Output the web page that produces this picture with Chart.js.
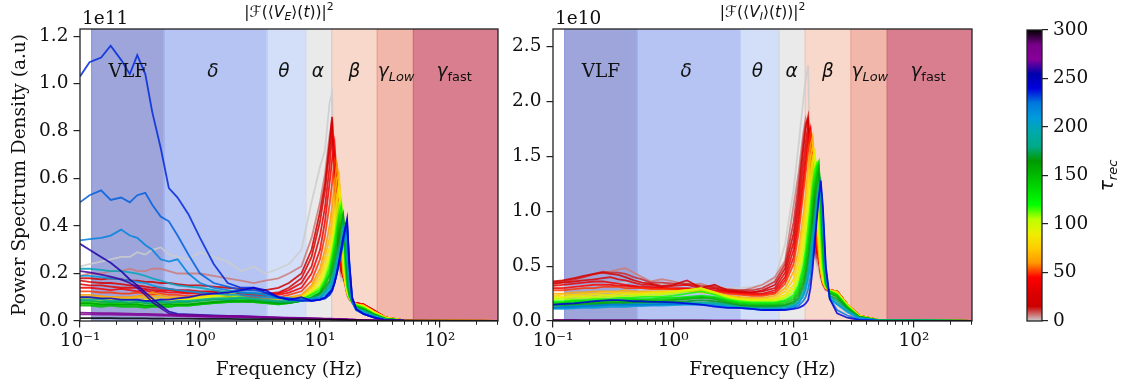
<!DOCTYPE html>
<html>
<head>
<meta charset="utf-8">
<script src="https://cdn.jsdelivr.net/npm/chart.js@4.4.1/dist/chart.umd.min.js"></script>
<style>
  body { margin: 0; background: #fff; }
  #wrap { position: relative; width: 1122px; height: 389px; overflow: hidden; background: #fff; }
  canvas { position: absolute; top: 0; }
</style>
</head>
<body>
<div id="wrap">
  <canvas id="left" width="500" height="389" style="left:0px"></canvas>
  <canvas id="right" width="485" height="389" style="left:500px"></canvas>
  <canvas id="cbar" width="137" height="389" style="left:985px"></canvas>
</div>
<script>
// frequency grid (Hz) shared by every spectrum
const freqs = [0.1, 0.12, 0.15, 0.18, 0.22, 0.26, 0.3, 0.35, 0.4, 0.47,
  0.55, 0.65, 0.8, 1, 1.3, 1.7, 2.2, 2.8, 3.5, 4.5,
  5.5, 7, 8.5, 10, 11, 12, 12.6, 13.2, 13.8, 14.4,
  15, 15.6, 16.2, 16.8, 17.5, 18.5, 20, 23, 28, 35, 50, 300];

// |F(<V_E>(t))|^2, units of 1e11, one array per tau_rec
const E000 = [0.23,0.24,0.25,0.26,0.27,0.27,0.29,0.28,0.30,0.31, 0.28,0.27,0.26,0.29,0.27, 0.25,0.21,0.23,0.20,0.22, 0.24,0.30,0.50,0.65,0.72, 0.92,0.96,0.55,0.32,0.22, 0.17,0.18,0.15,0.11,0.09, 0.08,0.07,0.06,0.04,0.015, 0.003,0];
const E006 = [0.19,0.20,0.20,0.21,0.21,0.22,0.21,0.21,0.22,0.22, 0.21,0.20,0.20,0.20,0.19, 0.18,0.17,0.16,0.17,0.18, 0.20,0.23,0.35,0.50,0.62, 0.78,0.85,0.55,0.35,0.25, 0.19,0.18,0.15,0.11,0.09, 0.08,0.07,0.06,0.04,0.015, 0.003,0];
const E015 = [0.18,0.18,0.175,0.18,0.175,0.17,0.17,0.165,0.165,0.16, 0.16,0.155,0.15,0.15,0.145, 0.14,0.135,0.13,0.13,0.14, 0.16,0.20,0.30,0.46,0.58, 0.75,0.86,0.60,0.40,0.28, 0.21,0.19,0.16,0.12,0.10, 0.08,0.075,0.07,0.045,0.015, 0.003,0];
const E025 = [0.17,0.165,0.16,0.16,0.155,0.15,0.15,0.145,0.14,0.14, 0.135,0.13,0.13,0.125,0.125, 0.12,0.12,0.115,0.115,0.12, 0.14,0.18,0.27,0.42,0.55, 0.72,0.84,0.62,0.42,0.30, 0.22,0.19,0.16,0.12,0.10, 0.08,0.075,0.07,0.045,0.015, 0.003,0];
const E032 = [0.155,0.15,0.15,0.145,0.14,0.14,0.14,0.135,0.13,0.13, 0.13,0.125,0.12,0.12,0.12, 0.115,0.115,0.11,0.11,0.115, 0.13,0.16,0.23,0.36,0.48, 0.65,0.78,0.70,0.50,0.35, 0.24,0.19,0.165,0.12,0.10, 0.08,0.075,0.07,0.045,0.015, 0.003,0];
const E040 = [0.14,0.14,0.135,0.13,0.135,0.13,0.125,0.13,0.12,0.125, 0.12,0.12,0.115,0.12,0.115, 0.11,0.11,0.105,0.105,0.11, 0.12,0.14,0.20,0.30,0.42, 0.58,0.68,0.75,0.60,0.40, 0.25,0.19,0.17,0.12,0.10, 0.08,0.075,0.07,0.045,0.015, 0.003,0];
const E050 = [0.125,0.125,0.12,0.12,0.115,0.115,0.12,0.115,0.11,0.115, 0.11,0.11,0.105,0.11,0.11, 0.105,0.10,0.10,0.095,0.10, 0.11,0.125,0.17,0.26,0.36, 0.49,0.58,0.68,0.66,0.50, 0.30,0.20,0.17,0.12,0.10, 0.08,0.072,0.068,0.042,0.015, 0.003,0];
const E060 = [0.11,0.11,0.105,0.10,0.10,0.10,0.105,0.11,0.12,0.11, 0.10,0.10,0.10,0.11,0.115, 0.10,0.095,0.09,0.09,0.095, 0.10,0.11,0.15,0.22,0.30, 0.40,0.48,0.58,0.66,0.60, 0.35,0.20,0.17,0.12,0.10, 0.08,0.07,0.065,0.04,0.015, 0.003,0];
const E070 = [0.105,0.10,0.10,0.10,0.095,0.095,0.10,0.10,0.105,0.10, 0.095,0.095,0.10,0.105,0.11, 0.11,0.10,0.09,0.09,0.09, 0.095,0.105,0.14,0.20,0.27, 0.35,0.42,0.51,0.60,0.62, 0.42,0.22,0.16,0.12,0.10, 0.08,0.07,0.065,0.04,0.015, 0.003,0];
const E080 = [0.10,0.10,0.095,0.095,0.09,0.095,0.09,0.09,0.095,0.09, 0.09,0.09,0.095,0.10,0.11, 0.13,0.10,0.09,0.085,0.085, 0.09,0.10,0.13,0.18,0.24, 0.31,0.37,0.45,0.53,0.58, 0.45,0.25,0.16,0.12,0.10, 0.08,0.07,0.065,0.04,0.015, 0.003,0];
const E090 = [0.095,0.095,0.09,0.09,0.09,0.09,0.085,0.09,0.09,0.085, 0.085,0.09,0.09,0.095,0.105, 0.12,0.10,0.09,0.085,0.085, 0.09,0.10,0.125,0.165,0.22, 0.28,0.34,0.41,0.49,0.55, 0.50,0.30,0.18,0.12,0.10, 0.08,0.07,0.062,0.038,0.013, 0.003,0];
const E100 = [0.09,0.09,0.085,0.085,0.085,0.08,0.085,0.08,0.08,0.085, 0.08,0.085,0.09,0.09,0.10, 0.11,0.10,0.09,0.085,0.08, 0.085,0.095,0.12,0.15,0.20, 0.26,0.31,0.38,0.45,0.50, 0.52,0.35,0.20,0.13,0.10, 0.08,0.07,0.06,0.035,0.012, 0.003,0];
const E112 = [0.08,0.08,0.08,0.08,0.075,0.075,0.075,0.075,0.075,0.08, 0.075,0.075,0.08,0.085,0.09, 0.10,0.095,0.09,0.08,0.08, 0.08,0.09,0.115,0.14,0.18, 0.24,0.29,0.35,0.42,0.47, 0.50,0.38,0.22,0.14,0.10, 0.08,0.068,0.058,0.032,0.011, 0.002,0];
const E125 = [0.075,0.075,0.07,0.075,0.07,0.07,0.07,0.065,0.07,0.07, 0.065,0.07,0.07,0.075,0.08, 0.085,0.09,0.085,0.08,0.075, 0.08,0.09,0.11,0.13,0.17, 0.22,0.27,0.33,0.39,0.44, 0.48,0.42,0.25,0.15,0.11, 0.08,0.065,0.055,0.03,0.01, 0.002,0];
const E138 = [0.07,0.07,0.065,0.07,0.065,0.065,0.065,0.06,0.065,0.065, 0.06,0.065,0.065,0.07,0.075, 0.08,0.085,0.08,0.075,0.07, 0.075,0.085,0.10,0.12,0.16, 0.20,0.25,0.30,0.36,0.41, 0.45,0.44,0.28,0.16,0.11, 0.08,0.062,0.052,0.029,0.01, 0.002,0];
const E150 = [0.065,0.065,0.06,0.065,0.06,0.06,0.06,0.055,0.06,0.06, 0.06,0.065,0.065,0.07,0.075, 0.08,0.08,0.08,0.075,0.07, 0.075,0.085,0.10,0.12,0.15, 0.19,0.23,0.28,0.33,0.38, 0.42,0.45,0.30,0.18,0.12, 0.08,0.06,0.05,0.028,0.01, 0.002,0];
const E162 = [0.075,0.075,0.07,0.07,0.07,0.07,0.07,0.065,0.065,0.07, 0.07,0.07,0.07,0.075,0.08, 0.085,0.085,0.085,0.08,0.075, 0.075,0.085,0.095,0.115,0.14, 0.17,0.21,0.25,0.30,0.35, 0.40,0.44,0.34,0.20,0.12, 0.08,0.058,0.048,0.027,0.009, 0.002,0];
const E175 = [0.085,0.085,0.08,0.08,0.08,0.075,0.08,0.075,0.075,0.08, 0.075,0.08,0.08,0.085,0.09, 0.09,0.095,0.09,0.085,0.08, 0.08,0.085,0.095,0.11,0.13, 0.16,0.19,0.23,0.28,0.32, 0.37,0.42,0.38,0.22,0.13, 0.08,0.055,0.045,0.025,0.008, 0.002,0];
const E188 = [0.09,0.09,0.09,0.085,0.085,0.085,0.085,0.08,0.08,0.085, 0.08,0.085,0.085,0.09,0.095, 0.095,0.10,0.095,0.09,0.085, 0.085,0.085,0.09,0.10,0.12, 0.15,0.17,0.21,0.26,0.30, 0.34,0.40,0.40,0.26,0.15, 0.08,0.052,0.042,0.022,0.007, 0.001,0];
const E200 = [0.22,0.22,0.215,0.21,0.21,0.205,0.20,0.19,0.18,0.17, 0.16,0.15,0.145,0.14,0.13, 0.12,0.12,0.115,0.11,0.10, 0.095,0.09,0.095,0.10,0.12, 0.14,0.16,0.20,0.24,0.28, 0.32,0.37,0.40,0.30,0.17, 0.08,0.05,0.04,0.02,0.006, 0.001,0];
const E210 = [0.19,0.19,0.185,0.18,0.175,0.17,0.165,0.16,0.15,0.14, 0.135,0.13,0.125,0.12,0.115, 0.11,0.11,0.105,0.10,0.095, 0.09,0.09,0.09,0.10,0.11, 0.13,0.15,0.18,0.22,0.26, 0.30,0.34,0.38,0.36,0.20, 0.08,0.05,0.035,0.018,0.005, 0.001,0];
const E220 = [0.34,0.345,0.35,0.36,0.385,0.36,0.35,0.32,0.30,0.26, 0.25,0.26,0.20,0.16,0.14, 0.13,0.12,0.12,0.11,0.10, 0.095,0.09,0.09,0.095,0.10, 0.12,0.14,0.17,0.21,0.25, 0.29,0.33,0.37,0.38,0.22, 0.08,0.045,0.03,0.015,0.004, 0.001,0];
const E228 = [0.50,0.53,0.55,0.51,0.52,0.50,0.53,0.54,0.49,0.44, 0.42,0.36,0.28,0.20,0.16, 0.145,0.13,0.13,0.12,0.10, 0.095,0.09,0.085,0.09,0.095, 0.11,0.13,0.16,0.20,0.24, 0.28,0.33,0.37,0.40,0.25, 0.09,0.05,0.03,0.015,0.004, 0.001,0];
const E235 = [1.03,1.09,1.11,1.16,1.10,1.04,1.12,1.04,0.88,0.73, 0.56,0.52,0.45,0.35,0.24, 0.16,0.14,0.14,0.12,0.10, 0.09,0.085,0.085,0.09,0.095, 0.11,0.125,0.16,0.20,0.25, 0.30,0.35,0.39,0.42,0.26, 0.10,0.05,0.03,0.015,0.004, 0.001,0];
const E242 = [0.10,0.10,0.095,0.095,0.09,0.09,0.09,0.085,0.085,0.09, 0.09,0.095,0.10,0.11,0.115, 0.12,0.13,0.14,0.13,0.10, 0.09,0.10,0.085,0.09,0.10, 0.12,0.13,0.16,0.20,0.25, 0.30,0.35,0.39,0.43,0.24, 0.10,0.05,0.03,0.015,0.004, 0.001,0];
const E258 = [0.325,0.30,0.27,0.245,0.21,0.175,0.15,0.12,0.095,0.065, 0.04,0.03,0.028,0.026,0.024, 0.022,0.02,0.018,0.016,0.014, 0.012,0.011,0.01,0.009,0.009, 0.008,0.008,0.008,0.007,0.007, 0.007,0.006,0.006,0.006,0.005, 0.005,0.004,0.003,0.002,0.001, 0,0];
const E262 = [0.21,0.205,0.195,0.187,0.175,0.16,0.14,0.11,0.08,0.055, 0.032,0.025,0.022,0.02,0.019, 0.018,0.017,0.016,0.014,0.013, 0.012,0.011,0.01,0.009,0.009, 0.008,0.008,0.008,0.007,0.007, 0.007,0.006,0.006,0.006,0.005, 0.005,0.004,0.003,0.002,0.001, 0,0];
const E270 = [0.028,0.028,0.027,0.027,0.026,0.026,0.025,0.025,0.024,0.023, 0.022,0.021,0.02,0.019,0.018, 0.017,0.016,0.015,0.014,0.013, 0.012,0.011,0.01,0.01,0.009, 0.009,0.009,0.008,0.008,0.008, 0.008,0.007,0.007,0.007,0.006, 0.006,0.005,0.004,0.003,0.002, 0.001,0];
const E280 = [0.035,0.034,0.033,0.033,0.032,0.031,0.03,0.03,0.029,0.028, 0.027,0.026,0.025,0.024,0.022, 0.021,0.02,0.018,0.017,0.015, 0.014,0.013,0.012,0.011,0.01, 0.01,0.01,0.009,0.009,0.009, 0.009,0.008,0.008,0.008,0.007, 0.007,0.006,0.005,0.004,0.002, 0.001,0];
const E300 = [0.012,0.012,0.012,0.012,0.011,0.011,0.011,0.011,0.01,0.01, 0.01,0.01,0.01,0.009,0.009, 0.009,0.008,0.008,0.008,0.007, 0.007,0.007,0.006,0.006,0.006, 0.006,0.005,0.005,0.005,0.005, 0.005,0.005,0.005,0.004,0.004, 0.004,0.004,0.003,0.002,0.001, 0.001,0];

// |F(<V_I>(t))|^2, units of 1e10
const I000 = [0.30,0.31,0.31,0.32,0.33,0.33,0.34,0.34,0.35,0.36, 0.35,0.34,0.33,0.34,0.35, 0.33,0.31,0.30,0.30,0.31, 0.33,0.38,0.70,1.20,1.60, 2.00,2.20,2.33,1.30,0.80, 0.60,0.50,0.45,0.38,0.32, 0.28,0.27,0.25,0.14,0.05, 0.01,0];
const I006 = [0.33,0.35,0.37,0.40,0.42,0.44,0.45,0.47,0.48,0.44, 0.40,0.36,0.38,0.36,0.33, 0.34,0.30,0.28,0.27,0.30, 0.33,0.40,0.55,1.05,1.35, 1.70,1.85,1.80,1.20,0.80, 0.60,0.55,0.50,0.40,0.33, 0.28,0.27,0.25,0.15,0.05, 0.01,0];
const I012 = [0.35,0.36,0.38,0.40,0.43,0.45,0.44,0.44,0.43,0.40, 0.38,0.35,0.35,0.34,0.34, 0.32,0.31,0.29,0.28,0.28, 0.30,0.36,0.52,0.90,1.25, 1.62,1.80,1.84,1.35,0.90, 0.65,0.58,0.55,0.42,0.34, 0.29,0.27,0.26,0.15,0.05, 0.01,0];
const I020 = [0.36,0.37,0.39,0.41,0.43,0.44,0.43,0.42,0.40,0.37, 0.35,0.34,0.32,0.33,0.37, 0.30,0.33,0.28,0.27,0.26, 0.28,0.33,0.48,0.80,1.15, 1.55,1.75,1.86,1.50,1.00, 0.75,0.62,0.60,0.45,0.35, 0.30,0.28,0.27,0.15,0.05, 0.01,0];
const I028 = [0.34,0.35,0.36,0.37,0.38,0.39,0.40,0.38,0.37,0.35, 0.33,0.33,0.31,0.32,0.33, 0.30,0.30,0.27,0.26,0.26, 0.27,0.30,0.44,0.72,1.05, 1.42,1.62,1.78,1.65,1.15, 0.82,0.63,0.58,0.45,0.35, 0.30,0.28,0.27,0.15,0.05, 0.01,0];
const I035 = [0.32,0.33,0.34,0.35,0.36,0.36,0.35,0.34,0.33,0.32, 0.31,0.31,0.30,0.30,0.30, 0.29,0.28,0.27,0.26,0.25, 0.25,0.28,0.40,0.65,0.95, 1.30,1.50,1.70,1.75,1.30, 0.90,0.65,0.58,0.45,0.35, 0.30,0.28,0.27,0.15,0.05, 0.01,0];
const I042 = [0.30,0.30,0.31,0.32,0.33,0.33,0.33,0.32,0.32,0.31, 0.30,0.30,0.30,0.29,0.29, 0.28,0.27,0.26,0.25,0.24, 0.24,0.26,0.37,0.58,0.88, 1.22,1.42,1.62,1.74,1.45, 1.00,0.68,0.59,0.45,0.35, 0.30,0.28,0.27,0.15,0.05, 0.01,0];
const I050 = [0.28,0.28,0.29,0.30,0.30,0.31,0.31,0.31,0.30,0.30, 0.30,0.29,0.29,0.29,0.28, 0.28,0.27,0.25,0.24,0.23, 0.23,0.25,0.34,0.52,0.80, 1.15,1.35,1.55,1.70,1.60, 1.10,0.72,0.60,0.45,0.35, 0.30,0.28,0.27,0.15,0.05, 0.01,0];
const I065 = [0.25,0.25,0.26,0.26,0.27,0.27,0.27,0.27,0.28,0.27, 0.27,0.27,0.27,0.27,0.27, 0.26,0.25,0.23,0.22,0.21, 0.21,0.23,0.30,0.45,0.65, 0.95,1.15,1.40,1.60,1.68, 1.40,0.90,0.62,0.45,0.35, 0.30,0.28,0.27,0.15,0.05, 0.01,0];
const I075 = [0.23,0.24,0.24,0.25,0.25,0.26,0.26,0.26,0.26,0.26, 0.26,0.26,0.27,0.27,0.28, 0.28,0.26,0.23,0.21,0.20, 0.20,0.21,0.27,0.38,0.56, 0.85,1.05,1.27,1.48,1.60, 1.50,1.05,0.68,0.48,0.36, 0.30,0.28,0.26,0.15,0.05, 0.01,0];
const I085 = [0.22,0.22,0.23,0.23,0.24,0.24,0.24,0.25,0.25,0.25, 0.25,0.26,0.26,0.27,0.28, 0.30,0.26,0.22,0.20,0.19, 0.19,0.20,0.24,0.33,0.48, 0.75,0.95,1.15,1.35,1.50, 1.55,1.20,0.75,0.50,0.38, 0.31,0.28,0.26,0.15,0.05, 0.01,0];
const I095 = [0.21,0.21,0.22,0.22,0.22,0.23,0.23,0.23,0.24,0.24, 0.24,0.25,0.25,0.26,0.28, 0.30,0.26,0.22,0.20,0.19, 0.19,0.19,0.22,0.30,0.43, 0.66,0.85,1.05,1.25,1.42, 1.52,1.35,0.85,0.55,0.40, 0.31,0.28,0.25,0.14,0.045, 0.01,0];
const I105 = [0.20,0.20,0.20,0.21,0.21,0.21,0.22,0.22,0.22,0.23, 0.23,0.23,0.24,0.25,0.27, 0.29,0.25,0.21,0.19,0.18, 0.18,0.18,0.21,0.27,0.38, 0.58,0.75,0.95,1.15,1.32, 1.45,1.45,1.00,0.60,0.42, 0.32,0.28,0.25,0.14,0.045, 0.01,0];
const I118 = [0.18,0.18,0.19,0.19,0.20,0.20,0.20,0.21,0.21,0.21, 0.22,0.22,0.22,0.23,0.25, 0.27,0.24,0.20,0.18,0.17, 0.17,0.17,0.19,0.24,0.33, 0.50,0.65,0.85,1.05,1.23, 1.38,1.43,1.25,0.80,0.48, 0.32,0.27,0.24,0.13,0.04, 0.008,0];
const I130 = [0.17,0.17,0.18,0.18,0.18,0.19,0.19,0.19,0.20,0.20, 0.20,0.20,0.21,0.21,0.22, 0.23,0.22,0.19,0.17,0.16, 0.16,0.16,0.18,0.22,0.30, 0.45,0.58,0.75,0.95,1.15, 1.30,1.40,1.45,1.00,0.55, 0.33,0.27,0.24,0.13,0.04, 0.008,0];
const I142 = [0.16,0.16,0.165,0.17,0.17,0.175,0.18,0.18,0.18,0.185, 0.19,0.19,0.195,0.20,0.21, 0.22,0.21,0.18,0.16,0.15, 0.15,0.15,0.165,0.20,0.27, 0.40,0.52,0.68,0.86,1.06, 1.22,1.35,1.42,1.10,0.62, 0.34,0.26,0.23,0.12,0.04, 0.008,0];
const I155 = [0.15,0.15,0.155,0.16,0.16,0.165,0.17,0.17,0.17,0.175, 0.175,0.18,0.18,0.19,0.20, 0.21,0.20,0.17,0.15,0.14, 0.14,0.14,0.15,0.18,0.24, 0.35,0.45,0.60,0.78,0.97, 1.15,1.30,1.38,1.20,0.70, 0.35,0.25,0.22,0.12,0.04, 0.008,0];
const I168 = [0.14,0.14,0.145,0.15,0.15,0.155,0.16,0.16,0.16,0.165, 0.165,0.17,0.17,0.175,0.18, 0.19,0.18,0.16,0.14,0.13, 0.13,0.13,0.14,0.165,0.21, 0.31,0.40,0.53,0.70,0.88, 1.06,1.21,1.32,1.24,0.78, 0.37,0.23,0.20,0.11,0.035, 0.007,0];
const I180 = [0.13,0.13,0.135,0.14,0.14,0.145,0.15,0.15,0.15,0.155, 0.155,0.16,0.16,0.16,0.165, 0.17,0.165,0.15,0.13,0.12, 0.12,0.12,0.13,0.15,0.19, 0.27,0.35,0.47,0.62,0.80, 0.98,1.12,1.25,1.25,0.85, 0.40,0.22,0.18,0.10,0.03, 0.006,0];
const I195 = [0.12,0.12,0.125,0.13,0.13,0.135,0.14,0.14,0.14,0.145, 0.145,0.15,0.15,0.155,0.16, 0.16,0.155,0.14,0.125,0.115, 0.11,0.11,0.12,0.14,0.17, 0.24,0.31,0.42,0.56,0.73, 0.90,1.06,1.20,1.24,0.90, 0.42,0.21,0.16,0.09,0.028, 0.005,0];
const I210 = [0.11,0.11,0.115,0.12,0.12,0.125,0.13,0.13,0.13,0.135, 0.135,0.14,0.14,0.145,0.15, 0.15,0.145,0.13,0.12,0.11, 0.105,0.105,0.11,0.13,0.16, 0.22,0.28,0.38,0.50,0.66, 0.83,1.00,1.15,1.22,0.95, 0.45,0.20,0.15,0.08,0.025, 0.005,0];
const I225 = [0.12,0.125,0.13,0.135,0.14,0.145,0.15,0.15,0.15,0.15, 0.15,0.15,0.155,0.155,0.155, 0.15,0.14,0.125,0.12,0.11, 0.10,0.10,0.105,0.12,0.14, 0.18,0.22,0.29,0.40,0.57, 0.78,0.97,1.14,1.25,1.00, 0.48,0.20,0.10,0.05,0.015, 0.004,0];
const I240 = [0.15,0.155,0.16,0.17,0.18,0.185,0.19,0.19,0.185,0.18, 0.18,0.175,0.175,0.17,0.16, 0.15,0.13,0.12,0.12,0.11, 0.10,0.10,0.10,0.11,0.12, 0.14,0.16,0.19,0.30,0.48, 0.72,0.93,1.12,1.28,1.05, 0.50,0.20,0.07,0.03,0.01, 0.003,0];
const I280 = [0.009,0.009,0.009,0.008,0.008,0.008,0.008,0.007,0.007,0.007, 0.007,0.006,0.006,0.006,0.006, 0.005,0.005,0.005,0.005,0.004, 0.004,0.004,0.004,0.004,0.004, 0.004,0.004,0.004,0.004,0.004, 0.004,0.004,0.004,0.004,0.003, 0.003,0.003,0.002,0.002,0.001, 0.001,0];
const I300 = [0.004,0.004,0.004,0.004,0.004,0.004,0.004,0.003,0.003,0.003, 0.003,0.003,0.003,0.003,0.003, 0.003,0.002,0.002,0.002,0.002, 0.002,0.002,0.002,0.002,0.002, 0.002,0.002,0.002,0.002,0.002, 0.002,0.002,0.002,0.002,0.002, 0.001,0.001,0.001,0.001,0.001, 0,0];

const seriesE = [[0,E000],[6,E006],[15,E015],[25,E025],[32,E032],[40,E040],[50,E050],[60,E060],[70,E070],[80,E080],
  [90,E090],[100,E100],[112,E112],[125,E125],[138,E138],[150,E150],[162,E162],[175,E175],[188,E188],[200,E200],
  [210,E210],[220,E220],[228,E228],[235,E235],[242,E242],[258,E258],[262,E262],[270,E270],[280,E280],[300,E300]];
const seriesI = [[0,I000],[6,I006],[12,I012],[20,I020],[28,I028],[35,I035],[42,I042],[50,I050],[65,I065],[75,I075],
  [85,I085],[95,I095],[105,I105],[118,I118],[130,I130],[142,I142],[155,I155],[168,I168],[180,I180],[195,I195],
  [210,I210],[225,I225],[240,I240],[280,I280],[300,I300]];

// frequency bands
const bandEdges = [0.125, 0.5, 3.6, 7.6, 12.5, 30, 60, 304];
const bandNames = ['VLF', 'δ', 'θ', 'α', 'β', 'γLow', 'γfast'];
const bandLabelAt = [0.25, 1.28, 5.0, 9.6, 19.3, 43, 131];
const bandFill = ['#9da5db', '#b5c4f2', '#d3def9', '#eaeaea', '#f9d8cc', '#f0b7aa', '#d87e8e'];
const bandLine = ['#8e99dc', '#a5b8f2', '#c3d3f7', '#dddddd', '#f3c6b8', '#e8a090', '#d06a7e'];

const decadeTicks = [0.1, 1, 10, 100];
const decadeLabels = ['10⁻¹', '10⁰', '10¹', '10²'];
const cbarTicks = [0, 50, 100, 150, 200, 250, 300];

// nipy_spectral control points (reversed when used)
const nsPos = [0,0.05,0.1,0.15,0.2,0.25,0.3,0.35,0.4,0.45,0.5,0.55,0.6,0.65,0.7,0.75,0.8,0.85,0.9,0.95,1];
const nsR = [0,0.4667,0.5333,0,0,0,0,0,0,0,0,0,0,0.7333,0.9333,1,1,1,0.8667,0.8,0.8];
const nsG = [0,0,0,0,0,0.4667,0.6,0.6667,0.6667,0.6,0.7333,0.8667,1,1,0.9333,0.8,0.6,0,0,0,0.8];
const nsB = [0,0.5333,0.6,0.6667,0.8667,0.8667,0.8667,0.6667,0.5333,0,0,0,0,0,0,0,0,0,0,0,0.8];

function cmap(s) {
  let i = 0;
  while (i < nsPos.length - 2 && s > nsPos[i + 1]) i++;
  const t = (s - nsPos[i]) / (nsPos[i + 1] - nsPos[i]);
  const c = arr => Math.round(255 * (arr[i] + t * (arr[i + 1] - arr[i])));
  return [c(nsR), c(nsG), c(nsB)];
}
function tauColor(tau, a) {
  const [r, g, b] = cmap(1 - tau / 300);
  return `rgba(${r},${g},${b},${a})`;
}

const FS = 18.5;
const TS = 15.5; // title size
const F_SERIF = `${FS}px "DejaVu Serif"`;
const F_IT = `italic ${FS}px "DejaVu Sans"`;
const F_SUB = `${FS * 0.7}px "DejaVu Sans"`;
const F_SUB_IT = `italic ${FS * 0.7}px "DejaVu Sans"`;
const INK = '#222';

function drawRich(ctx, parts, cx, by) {
  let w = 0;
  for (const p of parts) { ctx.font = p.f; p.w = ctx.measureText(p.t).width; w += p.w; }
  let x = cx - w / 2;
  ctx.textAlign = 'left';
  ctx.textBaseline = 'alphabetic';
  for (const p of parts) { ctx.font = p.f; ctx.fillText(p.t, x, by + (p.dy || 0)); x += p.w; }
}

function bandParts(i) {
  if (i === 0) return [{t: 'VLF', f: F_SERIF}];
  if (i === 5) return [{t: 'γ', f: F_IT}, {t: 'Low', f: F_SUB_IT, dy: 4}];
  if (i === 6) return [{t: 'γ', f: F_IT}, {t: 'fast', f: F_SUB, dy: 4}];
  return [{t: bandNames[i], f: F_IT}];
}

function titleParts(sub) {
  const n = `${TS}px "DejaVu Sans"`, it = `italic ${TS}px "DejaVu Sans"`;
  const sn = `${TS * 0.7}px "DejaVu Sans"`, si = `italic ${TS * 0.7}px "DejaVu Sans"`;
  return [{t: '|ℱ(⟨', f: n}, {t: 'V', f: it}, {t: sub, f: si, dy: 3.5},
    {t: '⟩(', f: n}, {t: 't', f: it}, {t: '))|', f: n}, {t: '2', f: sn, dy: -7}];
}

function panelDecor(p) {
  return {
    id: 'decor',
    beforeDatasetsDraw(chart) {
      const {ctx, chartArea: a, scales: {x}} = chart;
      ctx.save();
      for (let i = 0; i < bandFill.length; i++) {
        const x0 = x.getPixelForValue(bandEdges[i]), x1 = x.getPixelForValue(bandEdges[i + 1]);
        ctx.fillStyle = bandFill[i];
        ctx.fillRect(x0, a.top, x1 - x0, a.bottom - a.top);
      }
      ctx.lineWidth = 1.2;
      for (let i = 0; i < bandFill.length; i++) {
        ctx.strokeStyle = bandLine[i];
        for (const v of [bandEdges[i], bandEdges[i + 1]]) {
          const px = x.getPixelForValue(v);
          if (px >= a.right - 1) continue;
          ctx.beginPath(); ctx.moveTo(px, a.top); ctx.lineTo(px, a.bottom); ctx.stroke();
        }
      }
      ctx.restore();
    },
    afterDatasetsDraw(chart) {
      const {ctx, scales: {x}} = chart;
      ctx.save();
      ctx.fillStyle = '#111';
      bandLabelAt.forEach((f, i) => drawRich(ctx, bandParts(i), x.getPixelForValue(f), 76.5));
      ctx.restore();
    },
    afterDraw(chart) {
      const {ctx, chartArea: a, scales: {x}} = chart;
      ctx.save();
      // minor ticks on the log axis
      ctx.strokeStyle = INK;
      ctx.lineWidth = 1;
      for (const d of decadeTicks) {
        for (let k = 2; k <= 9; k++) {
          const v = k * d;
          if (v > x.max) break;
          const px = Math.round(x.getPixelForValue(v)) + 0.5;
          ctx.beginPath(); ctx.moveTo(px, a.bottom); ctx.lineTo(px, a.bottom + 3.8); ctx.stroke();
        }
      }
      // frame
      ctx.lineWidth = 1.3;
      ctx.strokeRect(a.left, a.top, a.right - a.left, a.bottom - a.top);
      // texts
      const cx = (a.left + a.right) / 2;
      ctx.fillStyle = '#111';
      drawRich(ctx, titleParts(p.sub), cx, 16.5);
      ctx.font = F_SERIF;
      ctx.textAlign = 'left';
      ctx.textBaseline = 'alphabetic';
      ctx.fillText(p.offset, a.left + 2, 24);
      ctx.textAlign = 'center';
      ctx.textBaseline = 'middle';
      ctx.fillText('Frequency (Hz)', cx, 370);
      if (p.ylabel) {
        ctx.translate(20, (a.top + a.bottom) / 2);
        ctx.rotate(-Math.PI / 2);
        ctx.fillText(p.ylabel, 0, 0);
      }
      ctx.restore();
    }
  };
}

function makePanel(id, p) {
  const datasets = p.series.map(([tau, vals]) => ({
    data: freqs.map((f, i) => ({x: f, y: vals[i]})),
    borderColor: tauColor(tau, 0.85),
    borderWidth: 1.8,
    pointRadius: 0,
    tension: 0,
    fill: false,
    order: -tau
  }));
  const tickFont = {family: 'DejaVu Serif', size: FS};
  new Chart(document.getElementById(id), {
    type: 'line',
    data: {datasets},
    options: {
      responsive: false,
      animation: false,
      devicePixelRatio: 1,
      layout: {padding: {left: 0, right: p.padRight, top: 29, bottom: 0}},
      plugins: {legend: {display: false}, tooltip: {enabled: false}},
      scales: {
        x: {
          type: 'logarithmic', min: 0.1, max: 304,
          afterBuildTicks: s => { s.ticks = decadeTicks.map(v => ({value: v})); },
          afterFit: s => { s.height = 68; },
          ticks: {callback: (v, i) => decadeLabels[i], font: tickFont, color: '#111',
            maxRotation: 0, autoSkip: false, padding: 3},
          grid: {drawOnChartArea: false, tickLength: 6.5, color: INK, lineWidth: 1.2},
          border: {display: false}
        },
        y: {
          min: 0, max: p.ymax,
          afterFit: s => { s.width = p.yWidth; },
          ticks: {stepSize: p.step, includeBounds: false, callback: v => v.toFixed(1),
            font: tickFont, color: '#111', padding: 5},
          grid: {drawOnChartArea: false, tickLength: 6.5, color: INK, lineWidth: 1.2},
          border: {display: false}
        }
      }
    },
    plugins: [panelDecor(p)]
  });
}

makePanel('left', {series: seriesE, ymax: 1.23, step: 0.2, yWidth: 80, padRight: 2,
  sub: 'E', offset: '1e11', ylabel: 'Power Spectrum Density (a.u)'});
makePanel('right', {series: seriesI, ymax: 2.66, step: 0.5, yWidth: 53, padRight: 13,
  sub: 'I', offset: '1e10', ylabel: null});

// colour bar
const cbarDecor = {
  id: 'cbarDecor',
  afterDraw(chart) {
    const {ctx, chartArea: a, scales: {y}} = chart;
    ctx.save();
    const y0 = y.getPixelForValue(0), y1 = y.getPixelForValue(300);
    const g = ctx.createLinearGradient(0, y0, 0, y1);
    for (let k = 0; k <= 60; k++) g.addColorStop(k / 60, tauColor(300 * k / 60, 1));
    ctx.fillStyle = g;
    ctx.fillRect(a.left, a.top, a.right - a.left, a.bottom - a.top);
    ctx.strokeStyle = INK;
    ctx.lineWidth = 1.3;
    ctx.strokeRect(a.left, a.top, a.right - a.left, a.bottom - a.top);
    ctx.fillStyle = '#111';
    ctx.translate(122, (a.top + a.bottom) / 2);
    ctx.rotate(-Math.PI / 2);
    drawRich(ctx, [{t: 'τ', f: F_IT}, {t: 'rec', f: F_SUB_IT, dy: 4}], 0, 6);
    ctx.restore();
  }
};
new Chart(document.getElementById('cbar'), {
  type: 'line',
  data: {datasets: []},
  options: {
    responsive: false,
    animation: false,
    devicePixelRatio: 1,
    layout: {padding: {left: 42, right: 0, top: 30, bottom: 68}},
    plugins: {legend: {display: false}, tooltip: {enabled: false}},
    scales: {
      x: {display: false, type: 'linear', min: 0, max: 1},
      y: {
        position: 'right', min: 0, max: 300,
        afterBuildTicks: s => { s.ticks = cbarTicks.map(v => ({value: v})); },
        afterFit: s => { s.width = 80; },
        ticks: {font: {family: 'DejaVu Serif', size: FS}, color: '#111', padding: 5},
        grid: {drawOnChartArea: false, tickLength: 6, color: INK, lineWidth: 1.2},
        border: {display: false}
      }
    }
  },
  plugins: [cbarDecor]
});
</script>
</body>
</html>
